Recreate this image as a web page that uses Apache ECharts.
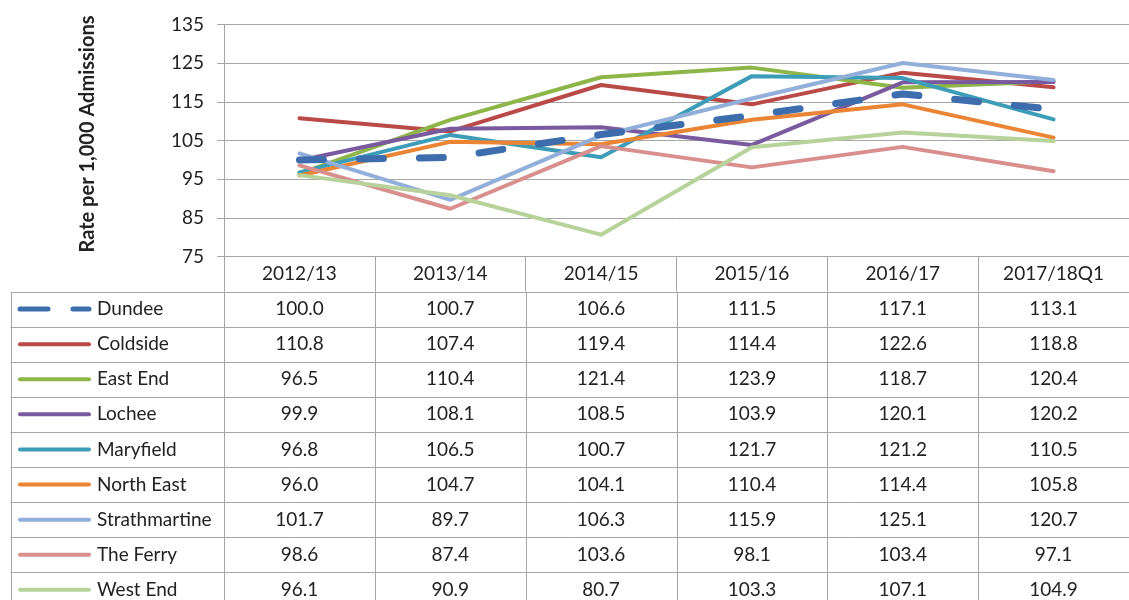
<!DOCTYPE html>
<html>
<head>
<meta charset="utf-8">
<script src="https://cdn.jsdelivr.net/npm/echarts@6/dist/echarts.min.js"></script>
<style>
html,body{margin:0;padding:0;background:#fff;}
#chart{width:1129px;height:600px;}
</style>
</head>
<body>
<div id="chart"></div>
<script>
const categories = ['2012/13', '2013/14', '2014/15', '2015/16', '2016/17', '2017/18Q1'];
const seriesNames = ['Dundee', 'Coldside', 'East End', 'Lochee', 'Maryfield', 'North East', 'Strathmartine', 'The Ferry', 'West End'];
const dundee        = [100.0, 100.7, 106.6, 111.5, 117.1, 113.1];
const coldside      = [110.8, 107.4, 119.4, 114.4, 122.6, 118.8];
const eastEnd       = [96.5, 110.4, 121.4, 123.9, 118.7, 120.4];
const lochee        = [99.9, 108.1, 108.5, 103.9, 120.1, 120.2];
const maryfield     = [96.8, 106.5, 100.7, 121.7, 121.2, 110.5];
const northEast     = [96.0, 104.7, 104.1, 110.4, 114.4, 105.8];
const strathmartine = [101.7, 89.7, 106.3, 115.9, 125.1, 120.7];
const theFerry      = [98.6, 87.4, 103.6, 98.1, 103.4, 97.1];
const westEnd       = [96.1, 90.9, 80.7, 103.3, 107.1, 104.9];
const yMin = 75, yMax = 135, yStep = 10;
const yTitle = 'Rate per 1,000 Admissions';

const seriesData = [dundee, coldside, eastEnd, lochee, maryfield, northEast, strathmartine, theFerry, westEnd];
const colors = ['#3E6DAE', '#BA4A47', '#8DB548', '#7A5A9E', '#3D9DB9', '#EB8535', '#92AEDA', '#D88F8D', '#B7D29A'];

const FONT = 'Lato';
const FS = 19;
const TXT = '#222222';
const GRIDC = '#A6A6A6';

const chart = echarts.init(document.getElementById('chart'), null, {renderer: 'canvas'});

const series = seriesNames.map((n, i) => ({
  name: n,
  type: 'line',
  data: seriesData[i],
  symbol: 'none',
  z: i === 0 ? 3 : 2,
  lineStyle: i === 0
    ? {color: colors[i], width: 7, type: [24, 36], cap: 'round'}
    : {color: colors[i], width: 4, cap: 'round', join: 'round'},
  itemStyle: {color: colors[i]},
  animation: false
}));

chart.setOption({
  animation: false,
  grid: {left: 224, top: 24.7, width: 918, height: 232},
  xAxis: {
    type: 'category',
    data: categories,
    boundaryGap: true,
    axisLine: {show: true, lineStyle: {color: GRIDC, width: 1}},
    axisTick: {show: true, length: 35, lineStyle: {color: GRIDC, width: 1}},
    axisLabel: {margin: 8, fontFamily: FONT, fontSize: FS, color: TXT},
    splitLine: {show: false}
  },
  yAxis: {
    type: 'value',
    min: yMin, max: yMax, interval: yStep,
    axisLine: {show: true, lineStyle: {color: GRIDC, width: 1}},
    axisTick: {show: true, length: 7, lineStyle: {color: GRIDC, width: 1}},
    axisLabel: {margin: 20, fontFamily: FONT, fontSize: FS, color: TXT},
    splitLine: {show: true, lineStyle: {color: GRIDC, width: 1}}
  },
  series: series
});

// Build data table beneath the plot, using axis scale for column positions
const g = [];
const tableLeft = 10.5;
const keyColRight = 224;
const tableTop = 291.5;
const rowH = 35.1;
const nRows = seriesNames.length;
const tableBottom = tableTop + rowH * nRows;
const centers = categories.map((c, i) => chart.convertToPixel({xAxisIndex: 0}, i));
const band = centers.length > 1 ? centers[1] - centers[0] : 150;
const rightEdge = centers[centers.length - 1] + band / 2;

for (let r = 0; r <= nRows; r++) {
  const y = Math.round(tableTop + rowH * r) + 0.5;
  g.push({type: 'line', shape: {x1: tableLeft, y1: y, x2: rightEdge, y2: y}, style: {stroke: GRIDC, lineWidth: 1}, silent: true});
}
const vx = [tableLeft, keyColRight].concat(centers.map(c => c + band / 2));
vx.forEach((x) => {
  const xx = Math.round(x) + 0.5;
  g.push({type: 'line', shape: {x1: xx, y1: Math.round(tableTop) + 0.5, x2: xx, y2: tableBottom}, style: {stroke: GRIDC, lineWidth: 1}, silent: true});
});
seriesNames.forEach((n, r) => {
  const cy = tableTop + rowH * (r + 0.5);
  const keyStyle = r === 0
    ? {stroke: colors[r], lineWidth: 5, lineCap: 'round', lineDash: [28, 25]}
    : {stroke: colors[r], lineWidth: 4, lineCap: 'round'};
  g.push({type: 'line', shape: {x1: 20, y1: cy, x2: 89, y2: cy}, style: keyStyle, silent: true});
  g.push({type: 'text', x: 97, y: cy, style: {text: n, fontFamily: FONT, fontSize: FS, fill: TXT, align: 'left', verticalAlign: 'middle'}, silent: true});
  seriesData[r].forEach((v, c) => {
    g.push({type: 'text', x: centers[c], y: cy, style: {text: v.toFixed(1), fontFamily: FONT, fontSize: FS, fill: TXT, align: 'center', verticalAlign: 'middle'}, silent: true});
  });
});
g.push({type: 'text', x: 88, y: 134, rotation: Math.PI / 2, style: {text: yTitle, fontFamily: FONT, fontSize: 20, fontWeight: 'bold', fill: TXT, align: 'center', verticalAlign: 'middle'}, silent: true});

chart.setOption({graphic: {elements: g}});
</script>
</body>
</html>
